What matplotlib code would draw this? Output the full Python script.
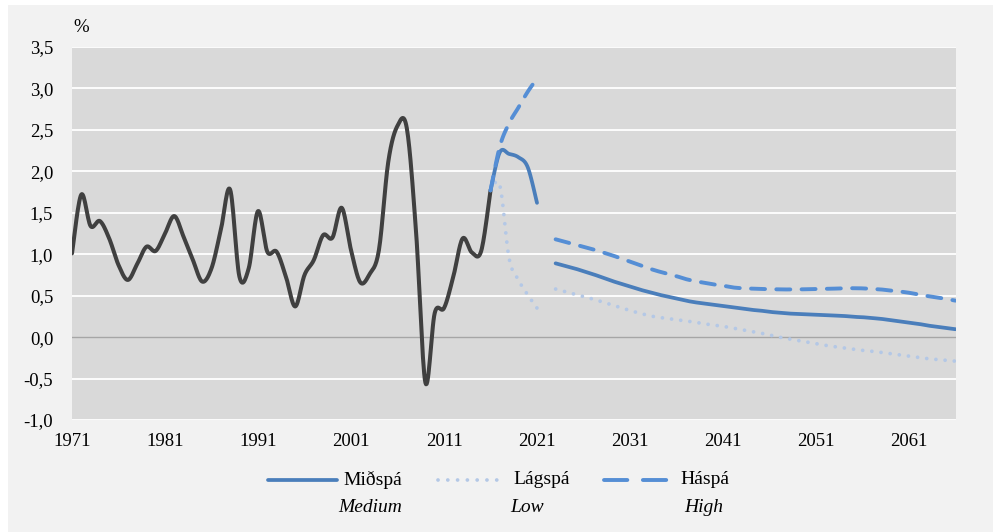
import numpy as np
import matplotlib
matplotlib.use("Agg")
import matplotlib.pyplot as plt
from matplotlib.lines import Line2D
from matplotlib.patches import Rectangle

W, H = 998, 532

# historical population growth, %
hist_years = list(range(1971, 2017))
hist = [1.01, 1.72, 1.34, 1.40, 1.19, 0.87, 0.69, 0.88, 1.09, 1.04,
        1.25, 1.46, 1.21, 0.93, 0.67, 0.83, 1.29, 1.78, 0.73, 0.83,
        1.52, 1.03, 1.03, 0.73, 0.37, 0.75, 0.93, 1.23, 1.20, 1.56,
        1.05, 0.66, 0.76, 1.05, 2.11, 2.55, 2.52, 1.26, -0.55, 0.29,
        0.35, 0.73, 1.19, 1.02, 1.04, 1.77]

# projections 2016-2066, nan = no value (2022)
proj_years = list(range(2016, 2067))
medium = [1.77, 2.23, 2.21, 2.17, 2.05, 1.62, np.nan,
          0.89, 0.86, 0.83, 0.795, 0.76, 0.72, 0.68, 0.645, 0.61, 0.575,
          0.545, 0.515, 0.49, 0.465, 0.44, 0.42, 0.405, 0.39, 0.375, 0.36,
          0.345, 0.33, 0.32, 0.305, 0.295, 0.285, 0.28, 0.275, 0.27, 0.265,
          0.26, 0.255, 0.245, 0.24, 0.23, 0.22, 0.205, 0.19, 0.175, 0.16,
          0.14, 0.125, 0.11, 0.095]
low = [1.77, 1.83, 0.95, 0.69, 0.51, 0.35, np.nan,
       0.58, 0.55, 0.52, 0.49, 0.46, 0.425, 0.39, 0.355, 0.32, 0.29,
       0.26, 0.24, 0.225, 0.21, 0.195, 0.18, 0.16, 0.145, 0.13, 0.11,
       0.09, 0.07, 0.05, 0.025, 0.0, -0.02, -0.04, -0.06, -0.08, -0.10,
       -0.115, -0.13, -0.145, -0.16, -0.17, -0.185, -0.20, -0.215, -0.23, -0.245,
       -0.26, -0.27, -0.28, -0.29]
high = [1.77, 2.30, 2.58, 2.77, 2.96, 3.12, np.nan,
        1.18, 1.15, 1.12, 1.09, 1.06, 1.025, 0.99, 0.95, 0.91, 0.87,
        0.83, 0.795, 0.765, 0.735, 0.70, 0.675, 0.655, 0.635, 0.62, 0.60,
        0.59, 0.585, 0.58, 0.578, 0.575, 0.575, 0.575, 0.578, 0.58, 0.582,
        0.585, 0.59, 0.59, 0.588, 0.582, 0.575, 0.56, 0.55, 0.535, 0.515,
        0.495, 0.48, 0.46, 0.44]

xtick_years = list(range(1971, 2062, 10))
yticks = [-1.0, -0.5, 0.0, 0.5, 1.0, 1.5, 2.0, 2.5, 3.0, 3.5]

labels_is = ["Miðspá", "Lágspá", "Háspá"]
labels_en = ["Medium", "Low", "High"]

C_HIST = "#404040"
C_MED = "#4a7ebb"
C_LOW = "#b4c8e6"
C_HIGH = "#558ed5"

plt.rcParams["font.family"] = ["Liberation Serif", "DejaVu Serif"]


def smooth(x, y, n=16):
    # catmull-rom, like excel's smoothed line
    p = np.column_stack((x, y)).astype(float)
    p = np.vstack((p[0], p, p[-1]))
    out = []
    t = np.linspace(0, 1, n)[:, None]
    for i in range(1, len(p) - 2):
        p0, p1, p2, p3 = p[i - 1], p[i], p[i + 1], p[i + 2]
        seg = 0.5 * ((2 * p1) + (-p0 + p2) * t + (2 * p0 - 5 * p1 + 4 * p2 - p3) * t ** 2
                     + (-p0 + 3 * p1 - 3 * p2 + p3) * t ** 3)
        out.append(seg if i == 1 else seg[1:])
    out = np.vstack(out)
    return out[:, 0], out[:, 1]


def segments(x, y):
    x = np.asarray(x, float)
    y = np.asarray(y, float)
    ok = ~np.isnan(y)
    idx = np.flatnonzero(np.diff(np.r_[0, ok.astype(int), 0]))
    for a, b in zip(idx[::2], idx[1::2]):
        yield x[a:b], y[a:b]


fig = plt.figure(figsize=(W / 100, H / 100), dpi=100, facecolor="white")
fig.add_artist(Rectangle((8 / W, 0), (993 - 8) / W, 1 - 5 / H, transform=fig.transFigure,
                         facecolor="#f2f2f2", edgecolor="none", zorder=0))

ax = fig.add_axes([72 / W, 1 - 420 / H, (956 - 72) / W, (420 - 47) / H])
ax.set_facecolor("#d9d9d9")
for s in ax.spines.values():
    s.set_visible(False)

for v in yticks:
    if v == 0:
        ax.axhline(v, color="#a6a6a6", lw=1.0, zorder=1)
    else:
        ax.axhline(v, color="white", lw=1.3, zorder=1)

hx, hy = smooth(hist_years, hist)
ax.plot(hx, hy, color=C_HIST, lw=2.9, solid_capstyle="round", zorder=3)

styles = [
    (medium, dict(color=C_MED, lw=2.7, solid_capstyle="round", zorder=5)),
    (low, dict(color=C_LOW, lw=2.7, linestyle=(0, (0.01, 2.45)), dash_capstyle="round", zorder=4)),
    (high, dict(color=C_HIGH, lw=2.8, linestyle=(0, (3.6, 2.9)), dash_capstyle="round", zorder=6)),
]
for vals, kw in styles:
    for sx, sy in segments(proj_years, vals):
        xs, ys = smooth(sx, sy)
        ax.plot(xs, ys, **kw)

ax.set_xlim(1971, 2066.05)
ax.set_ylim(-1.0, 3.5)
ax.set_xticks(xtick_years)
ax.set_xticklabels([str(y) for y in xtick_years])
ax.set_yticks(yticks)
ax.set_yticklabels([("%.1f" % v).replace(".", ",") for v in yticks])
ax.tick_params(axis="both", length=0, labelsize=13.5, colors="black")
ax.tick_params(axis="y", pad=13.5)
ax.tick_params(axis="x", pad=9)

fig.text(73 / W, 1 - 27 / H, "%", fontsize=13.5, ha="left", va="center")

# legend, drawn by hand to get the two-language layout
handles = [
    dict(color=C_MED, lw=2.7, solid_capstyle="round"),
    dict(color=C_LOW, lw=2.7, linestyle=(0, (0.01, 2.6)), dash_capstyle="round"),
    dict(color=C_HIGH, lw=2.8, linestyle=(0, (6.0, 4.0)), dash_capstyle="round"),
]
hx0 = [268, 438, 604]
hx1 = [337, 505, 675]
tx = [343, 513, 680]
ex = [370, 527, 704]
for i in range(3):
    fig.add_artist(Line2D([hx0[i] / W, hx1[i] / W], [1 - 480 / H, 1 - 480 / H],
                          transform=fig.transFigure, **handles[i]))
    fig.text(tx[i] / W, 1 - 480 / H, labels_is[i], fontsize=14, ha="left", va="center")
    fig.text(ex[i] / W, 1 - 508 / H, labels_en[i], fontsize=14, ha="center", va="center",
             style="italic")

fig.savefig("out.png", dpi=100, facecolor=fig.get_facecolor())
